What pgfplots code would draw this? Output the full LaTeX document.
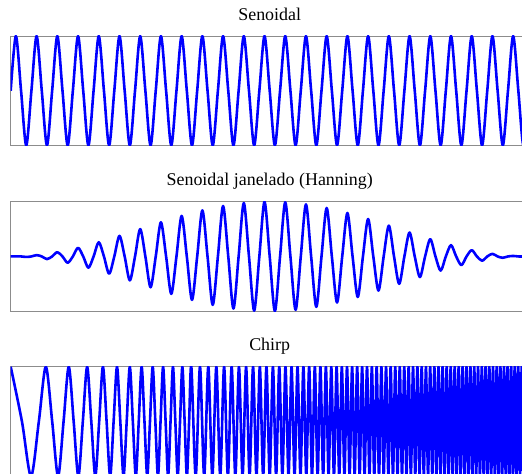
\documentclass[border=0pt]{standalone}
\usepackage{fontspec}
\setmainfont{Liberation Serif}
\usepackage{pgfplots}
\pgfplotsset{compat=1.18}
\pgfplotsset{
  panel/.style={
    scale only axis, width=518bp, height=109.5bp,
    xmin=0, xmax=1, ymin=-1, ymax=1,
    ticks=none,
    axis line style={draw=gray!90, line width=0.8pt},
    title style={at={(0.5,1)}, anchor=base, yshift=10bp, inner sep=0pt, font=\fontsize{18}{20}\selectfont},
  },
  sig/.style={blue, line width=2.6pt, smooth, no markers, line join=round},
}
\begin{document}
\begin{tikzpicture}
\path[use as bounding box] (0,0) rectangle (522bp,474bp);
\clip (0,0) rectangle (522bp,474bp);
\begin{axis}[panel, at={(10.7bp,438bp)}, anchor=north west, title={Senoidal}]
\addplot[sig] coordinates {
(0,0)(0.01,1)(0.02,0)(0.03,-1)(0.04,0)(0.05,1)(0.06,0)(0.07,-1)(0.08,0)(0.09,1)(0.10,0)(0.11,-1)(0.12,0)(0.13,1)(0.14,0)(0.15,-1)(0.16,0)(0.17,1)(0.18,0)(0.19,-1)(0.20,0)(0.21,1)(0.22,0)(0.23,-1)(0.24,0)(0.25,1)(0.26,0)(0.27,-1)(0.28,0)(0.29,1)(0.30,0)(0.31,-1)(0.32,0)(0.33,1)(0.34,0)(0.35,-1)(0.36,0)(0.37,1)(0.38,0)(0.39,-1)(0.40,0)(0.41,1)(0.42,0)(0.43,-1)(0.44,0)(0.45,1)(0.46,0)(0.47,-1)(0.48,0)(0.49,1)(0.50,0)(0.51,-1)(0.52,0)(0.53,1)(0.54,0)(0.55,-1)(0.56,0)(0.57,1)(0.58,0)(0.59,-1)(0.60,0)(0.61,1)(0.62,0)(0.63,-1)(0.64,0)(0.65,1)(0.66,0)(0.67,-1)(0.68,0)(0.69,1)(0.70,0)(0.71,-1)(0.72,0)(0.73,1)(0.74,0)(0.75,-1)(0.76,0)(0.77,1)(0.78,0)(0.79,-1)(0.80,0)(0.81,1)(0.82,0)(0.83,-1)(0.84,0)(0.85,1)(0.86,0)(0.87,-1)(0.88,0)(0.89,1)(0.90,0)(0.91,-1)(0.92,0)(0.93,1)(0.94,0)(0.95,-1)(0.96,0)(0.97,1)(0.98,0)(0.99,-1)(1.00,0)
};
\end{axis}
\begin{axis}[panel, at={(10.7bp,272.3bp)}, anchor=north west, title={Senoidal janelado (Hanning)}]
\addplot[sig] coordinates {
(0,0)(0.01,0.001)(0.02,0)(0.03,-0.009)(0.04,0)(0.05,0.024)(0.06,0)(0.07,-0.048)(0.08,0)(0.09,0.078)(0.10,0)(0.11,-0.115)(0.12,0)(0.13,0.158)(0.14,0)(0.15,-0.206)(0.16,0)(0.17,0.259)(0.18,0)(0.19,-0.316)(0.20,0)(0.21,0.376)(0.22,0)(0.23,-0.437)(0.24,0)(0.25,0.5)(0.26,0)(0.27,-0.563)(0.28,0)(0.29,0.624)(0.30,0)(0.31,-0.684)(0.32,0)(0.33,0.741)(0.34,0)(0.35,-0.794)(0.36,0)(0.37,0.842)(0.38,0)(0.39,-0.885)(0.40,0)(0.41,0.922)(0.42,0)(0.43,-0.952)(0.44,0)(0.45,0.976)(0.46,0)(0.47,-0.991)(0.48,0)(0.49,0.999)(0.50,0)(0.51,-0.999)(0.52,0)(0.53,0.991)(0.54,0)(0.55,-0.976)(0.56,0)(0.57,0.952)(0.58,0)(0.59,-0.922)(0.60,0)(0.61,0.885)(0.62,0)(0.63,-0.842)(0.64,0)(0.65,0.794)(0.66,0)(0.67,-0.741)(0.68,0)(0.69,0.684)(0.70,0)(0.71,-0.624)(0.72,0)(0.73,0.563)(0.74,0)(0.75,-0.5)(0.76,0)(0.77,0.437)(0.78,0)(0.79,-0.376)(0.80,0)(0.81,0.316)(0.82,0)(0.83,-0.259)(0.84,0)(0.85,0.206)(0.86,0)(0.87,-0.158)(0.88,0)(0.89,0.115)(0.90,0)(0.91,-0.078)(0.92,0)(0.93,0.048)(0.94,0)(0.95,-0.024)(0.96,0)(0.97,0.009)(0.98,0)(0.99,-0.001)(1.00,0)
};
\end{axis}
\begin{axis}[panel, at={(10.7bp,107.3bp)}, anchor=north west, title={Chirp}]
\addplot[sig] coordinates {
(0,1)(0.021703,0)(0.039228,-1)(0.054334,0)(0.067811,1)(0.080094,0)(0.091454,-1)(0.102071,0)(0.112075,1)(0.121561,0)(0.130602,-1)(0.139256,0)(0.147567,1)(0.155575,0)(0.163310,-1)(0.170797,0)(0.178061,1)(0.185119,0)(0.191987,-1)(0.198681,0)(0.205213,1)(0.211594,0)(0.217835,-1)(0.223944,0)(0.229929,1)(0.235797,0)(0.241556,-1)(0.247210,0)(0.252766,1)(0.258228,0)(0.263601,-1)(0.268889,0)(0.274096,1)(0.279227,0)(0.284283,-1)(0.289268,0)(0.294185,1)(0.299037,0)(0.303826,-1)(0.308555,0)(0.313226,1)(0.317841,0)(0.322401,-1)(0.326910,0)(0.331368,1)(0.335777,0)(0.340139,-1)(0.344455,0)(0.348727,1)
(0.35714,-1)(0.36540,1)(0.37350,-1)(0.38145,1)(0.38927,-1)(0.39696,1)(0.40452,-1)(0.41197,1)(0.41930,-1)(0.42653,1)(0.43365,-1)(0.44067,1)(0.44760,-1)(0.45443,1)(0.46118,-1)(0.46785,1)(0.47443,-1)(0.48093,1)(0.48736,-1)(0.49372,1)(0.5,-1)
(0.50622,1)(0.51237,-1)(0.51845,1)(0.52448,-1)(0.53044,1)(0.53634,-1)(0.54219,1)(0.54798,-1)(0.55372,1)(0.55941,-1)(0.56505,1)(0.57063,-1)(0.57617,1)(0.58166,-1)(0.58711,1)(0.59251,-1)(0.59787,1)(0.60318,-1)(0.60846,1)(0.61369,-1)(0.61888,1)(0.62404,-1)(0.62915,1)(0.63423,-1)(0.63928,1)(0.64428,-1)(0.64926,1)(0.65420,-1)(0.65910,1)(0.66397,-1)(0.66881,1)(0.67362,-1)(0.67840,1)(0.68315,-1)(0.68787,1)(0.69256,-1)(0.69722,1)(0.70185,-1)(0.70645,1)(0.71103,-1)
(0.71558,1)(0.72011,-1)(0.72461,1)(0.72908,-1)(0.73353,1)(0.73796,-1)(0.74236,1)(0.74673,-1)(0.75109,1)(0.75542,-1)(0.75973,1)(0.76401,-1)(0.76828,1)(0.77252,-1)(0.77674,1)(0.78094,-1)(0.78512,1)(0.78928,-1)(0.79342,1)(0.79754,-1)(0.80164,1)(0.80572,-1)(0.80978,1)(0.81383,-1)(0.81785,1)(0.82186,-1)(0.82585,1)(0.82982,-1)(0.83377,1)(0.83771,-1)(0.84163,1)(0.84553,-1)(0.84942,1)(0.85329,-1)(0.85714,1)
(0.86098,-1)(0.86480,1)(0.86861,-1)(0.87240,1)(0.87618,-1)(0.87994,1)(0.88369,-1)(0.88742,1)(0.89114,-1)(0.89484,1)(0.89853,-1)(0.90220,1)(0.90586,-1)(0.90951,1)(0.91315,-1)(0.91677,1)(0.92037,-1)(0.92397,1)(0.92755,-1)(0.93112,1)(0.93467,-1)(0.93822,1)(0.94175,-1)(0.94527,1)(0.94878,-1)(0.95227,1)(0.95575,-1)(0.95922,1)(0.96268,-1)(0.96613,1)(0.96957,-1)(0.97299,1)(0.97641,-1)(0.97981,1)(0.98320,-1)(0.98658,1)(0.98995,-1)(0.99331,1)(0.99666,-1)(1,1)
};
\end{axis}
\end{tikzpicture}
\end{document}
